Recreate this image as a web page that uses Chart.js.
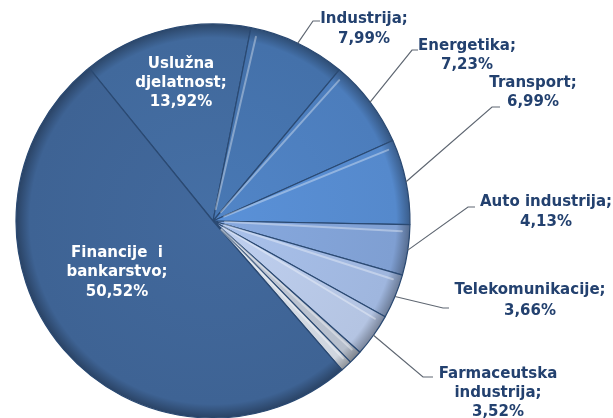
<!DOCTYPE html>
<html>
<head>
<meta charset="utf-8">
<title>Udio po sektorima</title>
<script src="https://cdn.jsdelivr.net/npm/chart.js"></script>
<style>
  html, body { margin: 0; padding: 0; background: #fff; }
</style>
</head>
<body>
<canvas id="pieChart" width="613" height="418"></canvas>
<script>
// sectors, clockwise starting at the top-left edge of "Uslužna djelatnost"
const sectors = ['Uslužna djelatnost', 'Industrija', 'Energetika', 'Transport', 'Auto industrija',
                 'Telekomunikacije', 'Farmaceutska industrija', 'Ostalo A', 'Ostalo B', 'Financije i bankarstvo'];
const shares = [13.92, 7.99, 7.23, 6.99, 4.13, 3.66, 3.52, 1.10, 0.94, 50.52];
// label text as printed (name lines; the share goes on the last line)
const nameLines = [['Uslužna', 'djelatnost;'], ['Industrija;'], ['Energetika;'], ['Transport;'],
                   ['Auto industrija;'], ['Telekomunikacije;'], ['Farmaceutska', 'industrija;'],
                   null, null, ['Financije  i', 'bankarstvo;']];
const sliceColors = ['#41699c', '#4471aa', '#4c7dbc', '#5589cc', '#7f9fd2',
                     '#9fb6de', '#b4c4e2', '#b7bfcc', '#d0d6df', '#3e6394'];

const shareText = shares.map(v => v.toFixed(2).replace('.', ',') + '%');

// where each label sits (x = text centre, y = first line centre), elbow of the leader line
const labelLayout = [
  { x: 181, y: 64,  lh: 19,   inside: true },
  { x: 364, y: 19,  lh: 20,   ex: 313, ey: 21,  tick: 7 },
  { x: 467, y: 46,  lh: 19,   ex: 412, ey: 50,  tick: 6 },
  { x: 533, y: 83,  lh: 19,   ex: 492, ey: 107, tick: 8 },
  { x: 546, y: 202, lh: 20,   ex: 468, ey: 207, tick: 7 },
  { x: 530, y: 290, lh: 21,   ex: 443, ey: 308, tick: 6 },
  { x: 498, y: 374, lh: 19,   ex: 423, ey: 377, tick: 10 },
  null,
  null,
  { x: 117, y: 253, lh: 19.5, inside: true }
];

function shade(hex, f) {
  const n = parseInt(hex.slice(1), 16);
  const c = [n >> 16, (n >> 8) & 255, n & 255].map(v => Math.min(255, Math.round(v * f)));
  return 'rgb(' + c.join(',') + ')';
}

// light bevel ridge just inside the leading edge of each slice
const bevelPlugin = {
  id: 'bevel',
  afterDatasetsDraw(chart) {
    const ctx = chart.ctx;
    const meta = chart.getDatasetMeta(0);
    ctx.save();
    ctx.lineCap = 'round';
    meta.data.forEach((arc, i) => {
      if (i === 0 || i === meta.data.length - 1) return;
      const p = arc.getProps(['x', 'y', 'startAngle', 'endAngle', 'outerRadius'], true);
      const a = p.startAngle + Math.min(0.035, (p.endAngle - p.startAngle) * 0.25);
      const r = p.outerRadius * 0.96;
      ctx.strokeStyle = 'rgba(255,255,255,0.35)';
      ctx.lineWidth = 2;
      ctx.beginPath();
      ctx.moveTo(p.x + Math.cos(a) * 12, p.y + Math.sin(a) * 12);
      ctx.lineTo(p.x + Math.cos(a) * r, p.y + Math.sin(a) * r);
      ctx.stroke();
    });
    ctx.restore();
  }
};

const labelPlugin = {
  id: 'sectorLabels',
  afterDatasetsDraw(chart) {
    const ctx = chart.ctx;
    const meta = chart.getDatasetMeta(0);
    ctx.save();
    ctx.font = 'bold 15px "DejaVu Sans"';
    ctx.textAlign = 'center';
    ctx.textBaseline = 'middle';
    meta.data.forEach((arc, i) => {
      const L = labelLayout[i];
      if (!L || !nameLines[i]) return;
      if (!L.inside) {
        const p = arc.getProps(['x', 'y', 'startAngle', 'endAngle', 'outerRadius'], true);
        const mid = (p.startAngle + p.endAngle) / 2;
        const sx = p.x + Math.cos(mid) * p.outerRadius;
        const sy = p.y + Math.sin(mid) * p.outerRadius;
        ctx.strokeStyle = '#5f6772';
        ctx.lineWidth = 1.2;
        ctx.beginPath();
        ctx.moveTo(sx, sy);
        ctx.lineTo(L.ex, L.ey);
        ctx.lineTo(L.ex + L.tick, L.ey);
        ctx.stroke();
      }
      ctx.fillStyle = L.inside ? '#ffffff' : '#23416f';
      const lines = nameLines[i].concat([shareText[i]]);
      lines.forEach((t, k) => ctx.fillText(t, L.x, L.y + k * L.lh));
    });
    ctx.restore();
  }
};

const ctx = document.getElementById('pieChart').getContext('2d');
const pieChart = new Chart(ctx, {
  type: 'pie',
  data: {
    labels: sectors,
    datasets: [{
      data: shares,
      backgroundColor: (c) => {
        const base = sliceColors[c.dataIndex];
        const area = c.chart.chartArea;
        if (!area) return base;
        const cx = (area.left + area.right) / 2, cy = (area.top + area.bottom) / 2;
        const g = c.chart.ctx.createRadialGradient(cx, cy, 0, cx, cy, 197);
        g.addColorStop(0, shade(base, 1.06));
        g.addColorStop(0.93, base);
        g.addColorStop(1, shade(base, 0.68));
        return g;
      },
      borderColor: '#2a4972',
      borderWidth: 1.2
    }]
  },
  options: {
    responsive: false,
    animation: false,
    rotation: -39,
    radius: 197,
    layout: { padding: { left: 0, right: 187, top: 24, bottom: 0 } },
    plugins: {
      legend: { display: false },
      tooltip: { enabled: false }
    }
  },
  plugins: [bevelPlugin, labelPlugin]
});
</script>
</body>
</html>
